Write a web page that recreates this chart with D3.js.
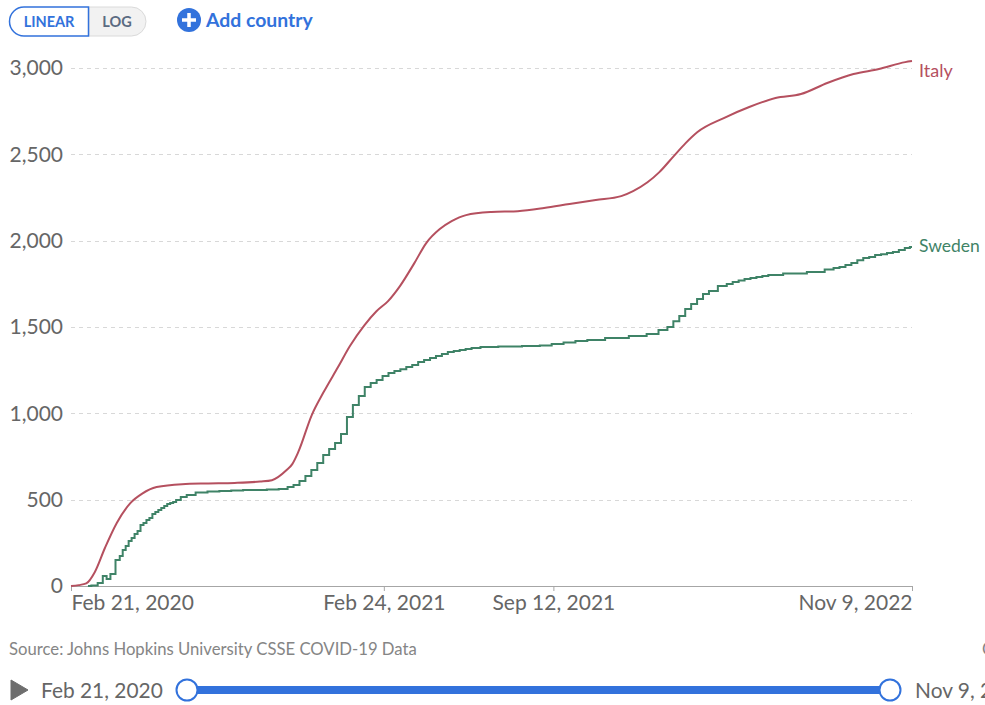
<!DOCTYPE html>
<html>
<head>
<meta charset="utf-8">
<script src="https://cdn.jsdelivr.net/npm/d3@7"></script>
<style>
  html, body { margin: 0; padding: 0; background: #fff; overflow: hidden; }
  svg { display: block; font-family: Lato, "Open Sans", sans-serif; }
</style>
</head>
<body>
<div id="graph-pane"></div>
<script>
// values (deaths per million, cumulative)
var yTicks = [0, 500, 1000, 1500, 2000, 2500, 3000];
var xTickDates = ["2020-02-21", "2021-02-24", "2021-09-12", "2022-11-09"];

var italyDates = ["2020-02-21","2020-03-01","2020-03-10","2020-03-20","2020-04-01","2020-04-15","2020-05-01","2020-05-15","2020-06-01","2020-07-01","2020-08-01","2020-09-01","2020-10-01","2020-10-15","2020-11-01","2020-11-08","2020-11-15","2020-12-01","2020-12-15","2021-01-01","2021-01-15","2021-02-01","2021-02-15","2021-03-01","2021-03-15","2021-04-01","2021-04-15","2021-05-01","2021-05-15","2021-06-01","2021-07-01","2021-08-01","2021-09-01","2021-10-01","2021-11-01","2021-12-01","2021-12-15","2022-01-01","2022-01-15","2022-02-01","2022-02-15","2022-03-01","2022-04-01","2022-05-01","2022-06-01","2022-07-01","2022-08-01","2022-09-01","2022-10-01","2022-11-01","2022-11-09"];
var italyValues = [0,5,15,80,220,365,480,535,573,590,594,597,605,613,670,706,775,990,1123,1268,1390,1510,1590,1650,1737,1870,1986,2067,2113,2148,2166,2171,2189,2212,2235,2258,2287,2338,2397,2490,2565,2629,2710,2774,2826,2849,2913,2965,2994,3034,3040];

var swedenDates = ["2020-03-12","2020-03-20","2020-03-27","2020-04-01","2020-04-05","2020-04-10","2020-04-17","2020-04-20","2020-04-24","2020-04-27","2020-05-01","2020-05-04","2020-05-08","2020-05-11","2020-05-15","2020-05-18","2020-05-22","2020-05-25","2020-05-29","2020-06-01","2020-06-05","2020-06-08","2020-06-12","2020-06-15","2020-06-19","2020-06-22","2020-06-26","2020-07-03","2020-07-10","2020-07-24","2020-08-07","2020-08-21","2020-09-04","2020-09-18","2020-10-02","2020-10-16","2020-10-30","2020-11-06","2020-11-13","2020-11-20","2020-11-27","2020-12-04","2020-12-11","2020-12-18","2020-12-25","2021-01-01","2021-01-08","2021-01-15","2021-01-22","2021-01-29","2021-02-05","2021-02-12","2021-02-19","2021-02-26","2021-03-05","2021-03-12","2021-03-19","2021-03-26","2021-04-02","2021-04-09","2021-04-16","2021-04-23","2021-04-30","2021-05-07","2021-05-14","2021-05-21","2021-05-28","2021-06-04","2021-06-11","2021-06-25","2021-07-23","2021-08-20","2021-09-03","2021-09-17","2021-10-01","2021-10-15","2021-10-29","2021-11-26","2021-12-24","2022-01-07","2022-01-21","2022-01-28","2022-02-04","2022-02-11","2022-02-18","2022-02-25","2022-03-04","2022-03-11","2022-03-18","2022-04-01","2022-04-08","2022-04-15","2022-04-22","2022-04-29","2022-05-06","2022-05-13","2022-05-20","2022-05-27","2022-06-24","2022-07-22","2022-08-05","2022-08-12","2022-08-19","2022-08-26","2022-09-02","2022-09-09","2022-09-16","2022-09-23","2022-09-30","2022-10-07","2022-10-14","2022-10-21","2022-10-28","2022-11-04","2022-11-09"];
var swedenValues = [0,3,17,58,41,70,150,174,208,232,260,278,301,318,353,365,382,394,417,428,440,452,463,475,481,486,498,515,527,541,547,550,553,556,556,559,562,573,585,608,637,672,712,759,793,828,880,979,1048,1100,1152,1175,1193,1216,1233,1245,1256,1268,1280,1297,1309,1320,1332,1343,1355,1361,1367,1372,1378,1384,1387,1390,1393,1401,1410,1419,1424,1436,1448,1459,1482,1500,1534,1563,1604,1633,1662,1691,1708,1737,1749,1760,1769,1778,1784,1789,1795,1801,1810,1818,1833,1841,1847,1859,1870,1887,1899,1905,1917,1922,1928,1934,1946,1957,1963];

var parseDate = d3.utcParse("%Y-%m-%d");
var formatDate = d3.utcFormat("%b %-d, %Y");
var italyColor = "#b5505f", swedenColor = "#3f8367", blue = "#3272dc", grey = "#666";

function zip(dates, values) {
  return dates.map(function(d, i) { return {date: parseDate(d), value: values[i]}; });
}

var svg = d3.select("#graph-pane").append("svg")
  .attr("id", "graph")
  .attr("width", 985)
  .attr("height", 705);

// scales
var x = d3.scaleUtc()
  .domain([parseDate(xTickDates[0]), parseDate(xTickDates[3])])
  .range([71, 912]);
var y = d3.scaleLinear()
  .domain([0, 3000])
  .range([586, 68]);

// Y axis + dashed grid
var yAxis = svg.append("g")
  .attr("transform", "translate(71,0)")
  .call(d3.axisLeft(y).tickValues(yTicks).tickFormat(d3.format(",")).tickSize(0).tickPadding(8));
yAxis.select(".domain").remove();
yAxis.selectAll("text").attr("font-size", 21).attr("fill", grey).attr("font-family", "Lato");
svg.append("g").selectAll("line")
  .data(yTicks.filter(function(d) { return d > 0; }))
  .enter().append("line")
    .attr("x1", 71).attr("x2", 912)
    .attr("y1", function(d) { return Math.round(y(d)) + 0.5; })
    .attr("y2", function(d) { return Math.round(y(d)) + 0.5; })
    .attr("stroke", "#d8d8d8")
    .attr("stroke-dasharray", "4,4");

// X axis
var xAxis = svg.append("g")
  .attr("transform", "translate(0,586)")
  .call(d3.axisBottom(x).tickValues(xTickDates.map(parseDate)).tickFormat(formatDate).tickSize(5).tickPadding(4).tickSizeOuter(0));
xAxis.select(".domain").attr("stroke", "#a6a6a6");
xAxis.selectAll(".tick line").attr("stroke", "#a6a6a6");
xAxis.selectAll("text")
  .attr("font-size", 21).attr("fill", grey).attr("font-family", "Lato")
  .attr("text-anchor", function(d, i) { return i == 0 ? "start" : i == 3 ? "end" : "middle"; });

// lines
var italyLine = d3.line().x(function(d) { return x(d.date); }).y(function(d) { return y(d.value); }).curve(d3.curveMonotoneX);
var swedenLine = d3.line().x(function(d) { return x(d.date); }).y(function(d) { return y(d.value); }).curve(d3.curveStep);

svg.append("path").datum(zip(swedenDates, swedenValues))
  .attr("d", swedenLine).attr("fill", "none").attr("stroke", swedenColor).attr("stroke-width", 2);
svg.append("path").datum(zip(italyDates, italyValues))
  .attr("d", italyLine).attr("fill", "none").attr("stroke", italyColor).attr("stroke-width", 2);

svg.append("text").attr("x", 919).attr("y", 77).attr("font-size", 18).attr("fill", italyColor).text("Italy");
svg.append("text").attr("x", 919).attr("y", 252).attr("font-size", 17.5).attr("fill", swedenColor).text("Sweden");

// LINEAR / LOG toggle
svg.append("path")
  .attr("d", "M89,7H131.5a14.5,14.5 0 0 1 0,29H89Z")
  .attr("fill", "#f2f2f2").attr("stroke", "#dadada");
svg.append("path")
  .attr("d", "M88.5,7H24a14.5,14.5 0 0 0 0,29H88.5Z")
  .attr("fill", "#fff").attr("stroke", blue).attr("stroke-width", 1.5);
svg.append("text").attr("x", 49).attr("y", 27).attr("text-anchor", "middle")
  .attr("font-size", 14.5).attr("font-weight", 700).attr("fill", blue).text("LINEAR");
svg.append("text").attr("x", 117).attr("y", 27).attr("text-anchor", "middle")
  .attr("font-size", 14.5).attr("font-weight", 700).attr("fill", "#5b6b82").text("LOG");

// add country
svg.append("circle").attr("cx", 189).attr("cy", 20).attr("r", 12).attr("fill", blue);
svg.append("path").attr("d", "M189,13V27M182,20H196").attr("stroke", "#fff").attr("stroke-width", 3.5);
svg.append("text").attr("x", 206).attr("y", 27).attr("font-size", 19.4).attr("font-weight", 700).attr("fill", blue).text("Add country");

// footer
svg.append("text").attr("x", 9).attr("y", 655).attr("font-size", 16.7).attr("fill", "#858585")
  .text("Source: Johns Hopkins University CSSE COVID-19 Data");
svg.append("text").attr("x", 982).attr("y", 655).attr("font-size", 16.7).attr("fill", "#858585").text("CC BY");

// timeline slider
svg.append("path").attr("d", "M11,680L28,690L11,700Z").attr("fill", "#6e6e6e").attr("stroke", "#6e6e6e").attr("stroke-linejoin", "round");
svg.append("text").attr("x", 41).attr("y", 698).attr("font-size", 20.9).attr("fill", grey).text(formatDate(parseDate(xTickDates[0])));
svg.append("text").attr("x", 915).attr("y", 698).attr("font-size", 20.9).attr("fill", grey).text(formatDate(parseDate(xTickDates[3])));
svg.append("rect").attr("x", 187).attr("y", 686).attr("width", 703).attr("height", 8).attr("fill", blue);
[187, 890].forEach(function(cx) {
  svg.append("circle").attr("cx", cx).attr("cy", 690).attr("r", 10.5)
    .attr("fill", "#fff").attr("stroke", blue).attr("stroke-width", 2);
});
</script>
</body>
</html>
